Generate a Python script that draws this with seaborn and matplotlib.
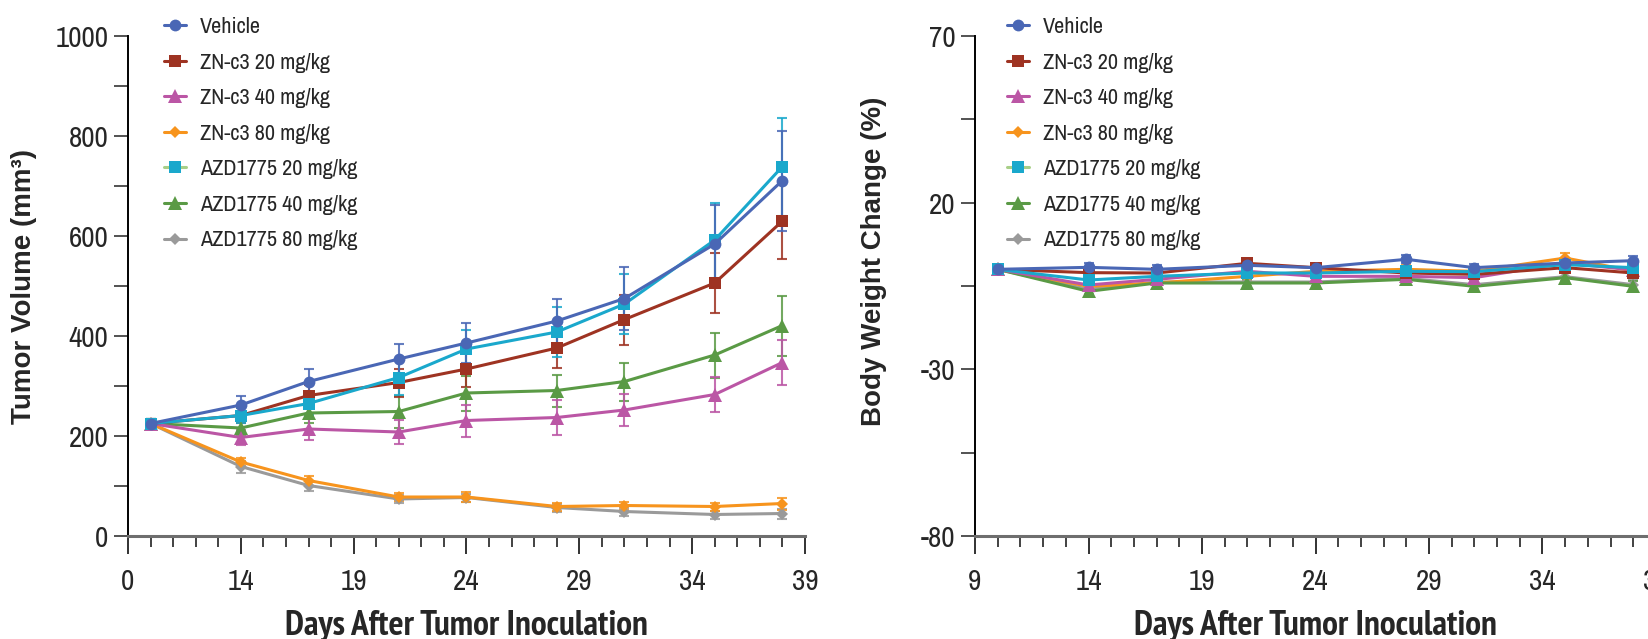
import numpy as np
import pandas as pd
import matplotlib
matplotlib.use("Agg")
import matplotlib.pyplot as plt
from matplotlib.lines import Line2D
from matplotlib.ticker import MultipleLocator, FixedLocator, FixedFormatter
import seaborn as sns

# ---------------- data ----------------
days = [10, 14, 17, 21, 24, 28, 31, 35, 38]
groups = ["Vehicle", "ZN-c3 20 mg/kg", "ZN-c3 40 mg/kg", "ZN-c3 80 mg/kg",
          "AZD1775 20 mg/kg", "AZD1775 40 mg/kg", "AZD1775 80 mg/kg"]

vol_vehicle = [225, 262, 309, 354, 386, 430, 475, 584, 711]
vol_zn20    = [225, 241, 281, 307, 334, 376, 433, 506, 630]
vol_zn40    = [225, 197, 214, 208, 231, 237, 252, 283, 347]
vol_zn80    = [225, 148, 111, 78, 78, 59, 61, 59, 65]
vol_azd20   = [225, 241, 265, 317, 374, 408, 464, 592, 739]
vol_azd40   = [225, 216, 246, 249, 286, 291, 309, 362, 421]
vol_azd80   = [225, 139, 101, 74, 77, 57, 49, 43, 45]

sem_vehicle = [10, 18, 25, 30, 40, 45, 63, 78, 100]
sem_zn20    = [10, 15, 22, 28, 35, 40, 50, 60, 76]
sem_zn40    = [10, 15, 22, 24, 32, 35, 32, 35, 45]
sem_zn80    = [8, 8, 10, 8, 10, 8, 8, 8, 12]
sem_azd20   = [10, 15, 22, 35, 38, 50, 60, 75, 98]
sem_azd40   = [10, 15, 20, 32, 35, 32, 38, 45, 60]
sem_azd80   = [8, 12, 10, 8, 8, 8, 8, 8, 10]

bw_vehicle = [0, 0.6, 0.0, 1.2, 0.5, 3.0, 0.5, 1.9, 2.6]
bw_zn20    = [0, -1.0, -1.1, 1.8, 0.5, -1.1, -1.5, 0.5, -1.1]
bw_zn40    = [0, -4.7, -3.0, -0.6, -2.1, -2.1, -2.5, 1.9, -0.2]
bw_zn80    = [0, -5.1, -4.1, -2.1, -0.6, 0.0, -0.6, 3.4, -0.5]
bw_azd20   = [0, -3.2, -2.1, -1.1, -1.1, -0.6, -0.7, 1.4, 0.5]
bw_azd40   = [0, -6.6, -4.1, -4.1, -4.1, -3.0, -5.1, -2.5, -5.1]
bw_azd80   = [0, -6.0, -3.8, -3.8, -3.8, -2.7, -4.6, -2.2, -4.6]

bw_sem = [0.8, 1.3, 1.2, 1.3, 1.2, 1.2, 1.2, 1.4, 1.5]

x_ticks = [9, 14, 19, 24, 29, 34, 39]
x_labels_tumor = ["0", "14", "19", "24", "29", "34", "39"]
x_labels_weight = ["9", "14", "19", "24", "29", "34", "39"]

vol = dict(zip(groups, [vol_vehicle, vol_zn20, vol_zn40, vol_zn80, vol_azd20, vol_azd40, vol_azd80]))
vol_sem = dict(zip(groups, [sem_vehicle, sem_zn20, sem_zn40, sem_zn80, sem_azd20, sem_azd40, sem_azd80]))
bw = dict(zip(groups, [bw_vehicle, bw_zn20, bw_zn40, bw_zn80, bw_azd20, bw_azd40, bw_azd80]))

# ---------------- style ----------------
colors = {
    "Vehicle": "#4a67b5",
    "ZN-c3 20 mg/kg": "#9e3322",
    "ZN-c3 40 mg/kg": "#bb56a5",
    "ZN-c3 80 mg/kg": "#f7941d",
    "AZD1775 20 mg/kg": "#1aa8cc",
    "AZD1775 40 mg/kg": "#5a9a45",
    "AZD1775 80 mg/kg": "#9a9a9a",
}
legend_line = dict(colors)
legend_line["AZD1775 20 mg/kg"] = "#a8cf88"
markers = {
    "Vehicle": "o",
    "ZN-c3 20 mg/kg": "s",
    "ZN-c3 40 mg/kg": "^",
    "ZN-c3 80 mg/kg": "D",
    "AZD1775 20 mg/kg": "s",
    "AZD1775 40 mg/kg": "^",
    "AZD1775 80 mg/kg": "D",
}
msize = {"o": 8.5, "s": 8, "^": 9.5, "D": 6.5}
draw_order = ["AZD1775 80 mg/kg", "ZN-c3 80 mg/kg", "AZD1775 40 mg/kg", "ZN-c3 40 mg/kg",
              "ZN-c3 20 mg/kg", "AZD1775 20 mg/kg", "Vehicle"]

sns.set_theme(style="ticks")
narrow = ["Archivo Narrow", "DejaVu Sans"]
narrow_bold = ["PT Sans Narrow", "Archivo Narrow", "DejaVu Sans"]
heavy = ["Liberation Sans", "DejaVu Sans"]
plt.rcParams["font.family"] = narrow

W, H = 1649, 639
fig = plt.figure(figsize=(W / 100, H / 100), dpi=100)
ax1 = fig.add_axes([128 / W, 1 - 536 / H, 677 / W, 500 / H])
ax2 = fig.add_axes([975 / W, 1 - 536 / H, 681 / W, 500 / H])


def long_frame(values):
    rows = []
    for g in groups:
        for d, v in zip(days, values[g]):
            rows.append({"day": d, "value": v, "group": g})
    return pd.DataFrame(rows)


def draw_panel(ax, values, sems):
    df = long_frame(values)
    for z, g in enumerate(draw_order):
        sub = df[df["group"] == g]
        m = markers[g]
        ax.errorbar(days, values[g], yerr=sems[g], fmt="none", ecolor=colors[g],
                    elinewidth=1.5, capsize=3.5, capthick=1.5, zorder=2 + z * 0.1, alpha=0.85)
        sns.lineplot(data=sub, x="day", y="value", ax=ax, color=colors[g], lw=2.2,
                     marker=m, markersize=msize[m], markeredgewidth=0,
                     legend=False, zorder=3 + z * 0.1)


draw_panel(ax1, vol, vol_sem)
draw_panel(ax2, bw, {g: bw_sem for g in groups})

for ax, labels in ((ax1, x_labels_tumor), (ax2, x_labels_weight)):
    ax.set_xlim(9, 39)
    ax.xaxis.set_major_locator(FixedLocator(x_ticks))
    ax.xaxis.set_major_formatter(FixedFormatter(labels))
    ax.xaxis.set_minor_locator(MultipleLocator(1))
    for s in ("top", "right"):
        ax.spines[s].set_visible(False)
    ax.spines["left"].set_color("black")
    ax.spines["left"].set_linewidth(1.4)
    ax.spines["bottom"].set_color("#6e6e6e")
    ax.spines["bottom"].set_linewidth(2.2)
    ax.tick_params(axis="x", which="major", length=13, width=1.3, color="#222222",
                   pad=10, labelsize=21)
    ax.tick_params(axis="x", which="minor", length=8, width=1.2, color="#222222")
    ax.tick_params(axis="y", which="both", length=10, width=1.3, color="#444444",
                   pad=4, labelsize=21)
    ax.set_xlabel("Days After Tumor Inoculation", fontsize=25.5, fontweight="bold",
                  family=narrow_bold)
    ax.xaxis.set_label_coords(0.5, -0.148)
    ax.set_facecolor("white")

ax1.set_ylim(0, 1000)
ax1.yaxis.set_major_locator(MultipleLocator(200))
ax1.yaxis.set_minor_locator(MultipleLocator(100))
ax1.set_ylabel("Tumor Volume (mm³)", fontsize=20, fontweight="bold", family=heavy)
ax1.yaxis.set_label_coords(-0.134, 0.5)

ax2.set_ylim(-80, 70)
ax2.yaxis.set_major_locator(FixedLocator([-80, -30, 20, 70]))
ax2.yaxis.set_major_formatter(FixedFormatter(["-80", "-30", "20", "70"]))
ax2.yaxis.set_minor_locator(FixedLocator([-55, -5, 45]))
ax2.set_ylabel("Body Weight Change (%)", fontsize=20, fontweight="bold", family=heavy)
ax2.yaxis.set_label_coords(-0.129, 0.55)

handles = [Line2D([], [], color=legend_line[g], lw=2.2, marker=markers[g],
                  markersize=msize[markers[g]], markerfacecolor=colors[g],
                  markeredgewidth=0) for g in groups]

for ax, x0 in ((ax1, 164), (ax2, 1007)):
    ax.legend(handles, groups, loc="upper left", bbox_to_anchor=(x0 / W, 1 - 17 / H),
              bbox_transform=fig.transFigure, frameon=False, fontsize=16,
              handlelength=1.0, handletextpad=0.6, labelspacing=0.7, borderpad=0,
              borderaxespad=0)

fig.savefig("out.png", dpi=100, facecolor="white")
